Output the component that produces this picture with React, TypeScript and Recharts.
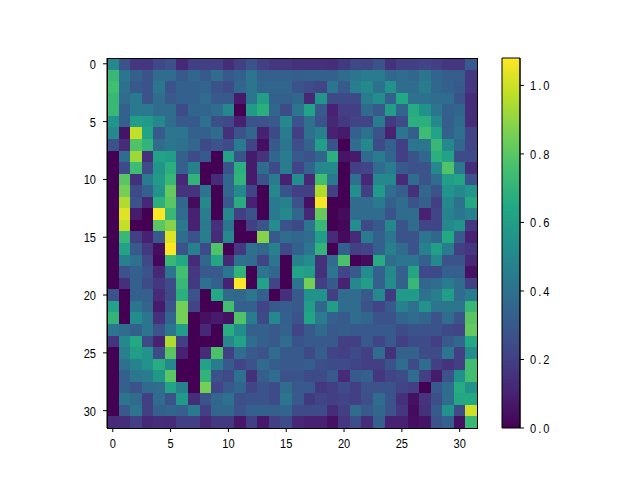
import { BarChart, Bar, ScatterChart, Scatter, XAxis, YAxis } from 'recharts';

// values, one list per image row
const heatRows: number[][] = [
    [.5,.27,.17,.17,.23,.27,.12,.2,.2,.2,.14,.2,.27,.2,.17,.17,.15,.15,.15,.14,.18,.24,.22,.28,.15,.2,.2,.22,.2,.17,.17,.3],
    [.72,.42,.33,.28,.38,.38,.3,.36,.3,.38,.3,.33,.42,.33,.33,.33,.32,.33,.33,.33,.38,.42,.45,.45,.36,.38,.36,.42,.35,.32,.32,.18],
    [.75,.4,.3,.27,.42,.27,.33,.33,.35,.27,.25,.36,.42,.35,.35,.35,.28,.25,.22,.42,.3,.46,.5,.4,.55,.38,.38,.45,.36,.33,.3,.17],
    [.72,.38,.44,.27,.38,.3,.33,.33,.38,.3,.3,.08,.42,.6,.33,.33,.36,.12,.56,.24,.24,.24,.45,.52,.33,.65,.4,.4,.38,.38,.28,.14],
    [.72,.33,.44,.44,.38,.38,.25,.35,.35,.38,.5,0,.58,.68,.36,.25,.42,.62,.3,.1,.2,.2,.37,.3,.6,.35,.66,.54,.42,.33,.35,.14],
    [.56,.33,.6,.58,.5,.38,.3,.3,.4,.26,.23,.1,.28,.27,.3,.5,.27,.4,.27,.12,.18,.22,.22,.45,.18,.25,.68,.68,.5,.32,.38,.14],
    [.5,.06,.98,.62,.3,.42,.42,.33,.33,.38,.15,.27,.36,.1,.24,.45,.2,.4,.47,.1,.08,.33,.4,.28,.1,.42,.32,.74,.62,.33,.4,.22],
    [.27,.13,.78,.7,.38,.42,.4,.36,.24,.27,.25,.45,.22,.04,.3,.42,.26,.34,.6,.28,0,.38,.5,.25,.33,.2,.42,.42,.72,.5,.36,.22],
    [0,.38,.92,.15,.62,.6,.33,.25,.3,0,.62,.28,.08,.16,.35,.45,.3,.28,.35,.68,.06,.08,.37,.45,.35,.2,.28,.36,.68,.62,.25,.25],
    [0,.25,.74,.24,.56,.68,.33,.47,0,0,.28,.68,.08,.38,.25,.45,.22,.35,.5,.5,0,.2,.22,.38,.45,.3,.27,.27,.5,.78,.44,.14],
    [0,.8,.15,.45,.58,.72,.12,.7,0,.13,.36,.7,.08,.28,.45,.1,.52,.12,.75,.44,0,.4,.12,.5,.5,.13,.38,.28,.38,.6,.63,.27],
    [0,.85,.25,.33,.55,.82,.16,.16,.42,0,.36,.5,.22,0,.5,.28,.2,.2,.95,.2,0,.53,.2,.58,.38,.32,.15,.36,.28,.56,.5,.56],
    [0,.95,.27,.12,.68,.8,.36,.03,.5,0,.3,.67,.1,0,.44,.47,.27,.05,1.07,0,0,.38,.38,.44,.33,.38,.27,.33,.2,.5,.4,.65],
    [0,1.03,.08,0,1.08,.72,.38,.1,.46,0,.5,.2,.28,0,.44,.5,.36,.12,.82,0,.03,.38,.38,.38,.28,.38,.38,.1,.22,.48,.42,.47],
    [0,.98,0,0,.8,.88,.44,.1,.44,.15,.42,0,.2,.28,.52,.27,.24,.42,.72,0,.02,.52,.23,.3,.5,.28,.38,.22,.22,.5,.55,.18],
    [0,.72,.2,.1,.3,1.03,.38,.28,.46,.13,.5,0,0,.88,.3,.38,.36,.38,.6,.13,.03,.13,.45,.33,.42,.28,.27,.42,.36,.65,.3,.1],
    [0,.62,.3,.18,.04,1.08,.27,.47,.25,.78,0,.18,.4,.36,.47,.24,.33,.42,.7,0,.33,.2,.22,.33,.47,.38,.27,.47,.6,.45,.2,.17],
    [0,.47,.4,.23,.02,.72,.65,.13,.36,.63,.12,.4,.38,.22,.42,0,.47,.52,.15,.38,.77,0,.03,.66,.38,.42,.42,.33,.5,.27,.28,.12],
    [0,.27,.33,.28,.12,.42,.75,.17,.3,.3,.42,.7,0,.42,.36,0,.62,.6,.15,.42,.22,.3,.52,.33,.5,.33,.63,.23,.24,.33,.33,.05],
    [0,.15,.33,.25,.17,.25,.72,.18,.4,.33,.1,1.08,0,.62,.22,0,.42,.85,.2,.3,.1,.5,.6,.33,.52,.33,.72,.36,.38,.45,.38,.2],
    [.27,0,.33,.33,.13,.24,.68,.27,0,.65,.37,.36,.42,.33,0,.15,.3,.55,.55,.2,.38,.38,.3,.5,.18,.58,.58,.4,.46,.6,.38,.45],
    [.62,0,.42,.35,.08,.28,.85,.22,0,0,.75,.33,.33,.22,.3,.32,.3,.6,.36,.6,.38,.38,.27,.22,.3,.47,.4,.55,.42,.42,.42,.72],
    [.7,0,.52,.42,.15,.35,.85,0,.05,.08,.05,.78,.45,.24,.5,.33,.27,.63,.45,.33,.3,.38,.36,.27,.27,.35,.38,.35,.27,.38,.27,.8],
    [.42,.38,.33,.42,.28,.42,.6,0,.12,0,.67,.52,.33,.33,.3,.34,.22,.3,.37,.3,.32,.3,.3,.3,.3,.25,.28,.27,.28,.24,.22,.82],
    [.16,.5,.65,.24,.1,.95,.2,0,0,0,.5,.62,.38,.33,.3,.38,.28,.3,.3,.3,.2,.2,.3,.22,.3,.2,.25,.25,.2,.3,.36,.65],
    [0,.47,.6,.55,.25,.8,.1,0,.13,.77,.2,.38,.3,.27,.38,.3,.3,.24,.32,.22,.2,.25,.2,.38,.15,.34,.34,.25,.25,.42,.2,.52],
    [0,.4,.48,.55,.67,.5,0,0,.62,.45,.3,.22,.27,.37,.32,.3,.3,.32,.26,.25,.25,.22,.2,.2,.28,.38,.25,.38,.2,.16,.2,.75],
    [0,.33,.43,.45,.57,.8,0,0,.7,.27,.24,.4,.15,.32,.38,.27,.28,.24,.25,.3,.13,.3,.33,.17,.22,.25,.38,.2,.08,.27,.54,.75],
    [0,.33,.27,.37,.38,.62,.48,0,.85,.22,.3,.35,.22,.28,.25,.38,.3,.3,.18,.2,.25,.2,.27,.27,.28,.22,.2,0,.3,.38,.66,.55],
    [0,.42,.37,.2,.38,.28,.58,.14,.28,.36,.4,.26,.28,.28,.25,.42,.3,.18,.22,.2,.22,.2,.26,.38,.28,.15,.05,.16,.26,.38,.65,.65],
    [0,.3,.42,.2,.33,.35,.33,.44,.2,.36,.36,.27,.33,.33,.33,.35,.25,.25,.25,.14,.2,.38,.3,.36,.27,.17,.03,.15,.3,.55,.25,1.0],
    [.13,.14,.2,.12,.14,.13,.2,.2,.12,.18,.18,.07,.2,.07,.2,.25,.12,.1,.1,.05,.17,.26,.14,.33,.1,.1,.04,.06,.28,.33,.05,.72],
];

const axisTicks = [0, 5, 10, 15, 20, 25, 30];
const colorbarTicks = [0, 0.2, 0.4, 0.6, 0.8, 1.0];
const colorbarData = [{ name: 'scale', top: 1.08 }];
const viridis = ['#440154', '#482475', '#414487', '#355f8d', '#2a788e', '#21918c', '#22a884', '#44bf70', '#7ad151', '#bddf26', '#fde725'];

const maxValue = 1.08;
const cellSize = 370 / 32;

function hexToRgb(hex: string) {
    return [1, 3, 5].map(i => parseInt(hex.slice(i, i + 2), 16));
}

function colorFor(value: number) {
    const t = (Math.min(value, maxValue) / maxValue) * (viridis.length - 1);
    const i = Math.min(Math.floor(t), viridis.length - 2);
    const a = hexToRgb(viridis[i]);
    const b = hexToRgb(viridis[i + 1]);
    const c = a.map((v, k) => Math.round(v + (b[k] - v) * (t - i)));
    return `rgb(${c[0]},${c[1]},${c[2]})`;
}

const cells = heatRows.flatMap((row, y) => row.map((value, x) => ({ x, y, value })));

function HeatCell(props: any) {
    const { cx, cy, payload } = props;
    return (
        <rect
            x={cx - cellSize / 2}
            y={cy - cellSize / 2}
            width={cellSize + 0.5}
            height={cellSize + 0.5}
            fill={colorFor(payload.value)}
            shapeRendering="crispEdges"
        />
    );
}

// the reference digits are tall and narrow, no installed font has that, so squeeze Liberation Sans
function narrowTick(dx: number, dy: number, anchor: string, spacing = 0, decimals = 0) {
    return (props: any) => (
        <text
            transform={`translate(${props.x + dx},${props.y + dy}) scale(0.82,1)`}
            textAnchor={anchor}
            letterSpacing={spacing}
            fontSize={13.5}
            fontFamily="Liberation Sans"
            fill="#000"
        >
            {Number(props.payload.value).toFixed(decimals)}
        </text>
    );
}

export default function App() {
    return (
        <div style={{ position: 'absolute', left: 0, top: 0, width: 640, height: 480, background: '#fff' }}>
            <div style={{ position: 'absolute', left: 0, top: 0 }}>
                <ScatterChart width={640} height={480} margin={{ left: 77, right: 163, top: 58, bottom: 22 }}>
                    <XAxis
                        type="number"
                        dataKey="x"
                        domain={[-0.5, 31.5]}
                        ticks={axisTicks}
                        interval={0}
                        height={30}
                        tick={narrowTick(0, 14, 'middle')}
                        tickSize={4}
                        tickLine={{ stroke: '#000' }}
                        axisLine={{ stroke: '#000' }}
                    />
                    <YAxis
                        type="number"
                        dataKey="y"
                        reversed
                        domain={[-0.5, 31.5]}
                        ticks={axisTicks}
                        interval={0}
                        width={30}
                        tick={narrowTick(-5, 5, 'end')}
                        tickSize={4}
                        tickLine={{ stroke: '#000' }}
                        axisLine={{ stroke: '#000' }}
                    />
                    <Scatter data={cells} shape={HeatCell} isAnimationActive={false} />
                </ScatterChart>
            </div>
            {/* frame round the image, the axis lines sit under the cells */}
            <div style={{ position: 'absolute', left: 107, top: 58, width: 369, height: 369, border: '1px solid #000', pointerEvents: 'none' }} />
            <div style={{ position: 'absolute', left: 0, top: 0 }}>
                <BarChart
                    width={640}
                    height={480}
                    data={colorbarData}
                    barCategoryGap={0}
                    margin={{ left: 502, right: 90, top: 58, bottom: 52 }}
                >
                    <defs>
                        <linearGradient id="viridisBar" x1="0" y1="1" x2="0" y2="0">
                            {viridis.map((c, i) => (
                                <stop key={c} offset={`${(i / (viridis.length - 1)) * 100}%`} stopColor={c} />
                            ))}
                        </linearGradient>
                    </defs>
                    <XAxis dataKey="name" hide />
                    <YAxis
                        orientation="right"
                        type="number"
                        domain={[0, maxValue]}
                        ticks={colorbarTicks}
                        interval={0}
                        width={30}
                        tick={narrowTick(4, 5, 'start', 2.5, 1)}
                        tickSize={4}
                        tickLine={{ stroke: '#000' }}
                        axisLine={{ stroke: '#000' }}
                    />
                    <Bar dataKey="top" fill="url(#viridisBar)" stroke="#000" strokeWidth={1} isAnimationActive={false} />
                </BarChart>
            </div>
        </div>
    );
}
